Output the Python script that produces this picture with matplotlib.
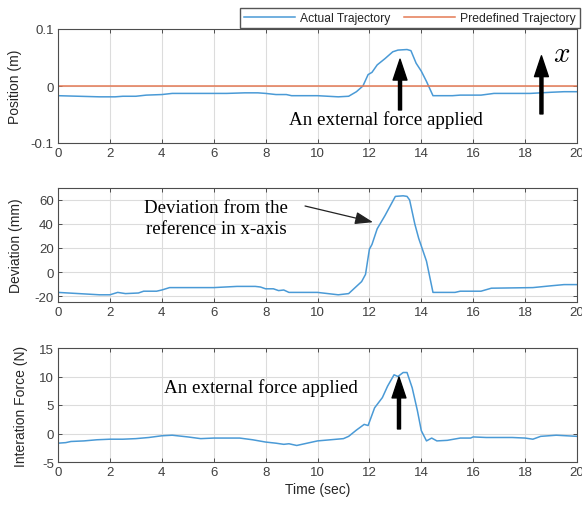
import numpy as np
import matplotlib
matplotlib.use("Agg")
import matplotlib.pyplot as plt

# values (time in sec)
t_pos = [0, 0.8, 1.6, 2.2, 2.5, 3.0, 3.4, 4.0, 4.4, 5.5, 6.5, 7.2, 7.7, 8.0, 8.4, 8.8,
         9.0, 10.0, 10.8, 11.2, 11.5, 11.75, 11.95, 12.1, 12.3, 12.6, 12.9, 13.1, 13.45,
         13.6, 13.8, 14.0, 14.2, 14.45, 15.2, 15.5, 16.3, 16.8, 18.2, 19.0, 19.5, 20]
position_m = [-0.017, -0.018, -0.019, -0.019, -0.018, -0.018, -0.016, -0.015, -0.013, -0.013,
              -0.013, -0.012, -0.012, -0.013, -0.015, -0.015, -0.017, -0.017, -0.019, -0.018,
              -0.010, 0.000, 0.020, 0.024, 0.037, 0.048, 0.060, 0.063, 0.064, 0.062, 0.040,
              0.026, 0.008, -0.017, -0.017, -0.016, -0.016, -0.013, -0.013, -0.011, -0.010, -0.010]

t_dev = [0, 0.8, 1.6, 2.0, 2.3, 2.6, 3.1, 3.3, 3.8, 4.0, 4.3, 5.0, 6.0, 6.9, 7.6, 7.8,
         8.0, 8.3, 8.5, 8.7, 8.9, 10.0, 10.8, 11.2, 11.5, 11.7, 11.85, 12.0, 12.1, 12.3,
         12.6, 12.9, 13.0, 13.3, 13.45, 13.55, 13.75, 13.9, 14.2, 14.45, 15.3, 15.5,
         16.3, 16.7, 18.3, 19.0, 19.5, 20]
deviation_mm = [-17, -18, -19, -19, -17, -18, -17.5, -16, -16, -15, -13, -13, -13, -12, -12, -12.5,
                -14, -14, -15.5, -15, -17, -17, -19, -18, -12, -8, -2, 19, 23, 36,
                47, 59, 63, 63.5, 63, 60, 40, 28, 9, -17, -17, -16,
                -16, -13.5, -13, -11.5, -10.5, -10.5]

t_force = [0, 0.3, 0.5, 1.0, 1.5, 2.0, 2.5, 3.0, 3.5, 4.0, 4.4, 5.0, 5.5, 6.0, 6.5, 7.0, 7.5, 8.0,
           8.4, 8.7, 8.9, 9.2, 9.6, 10.0, 10.5, 11.0, 11.2, 11.5, 11.8, 11.95, 12.2, 12.5,
           12.7, 12.95, 13.1, 13.3, 13.45, 13.65, 13.85, 14.0, 14.2, 14.4, 14.6, 15.0, 15.5,
           15.9, 16.0, 16.5, 17.0, 17.5, 18.0, 18.3, 18.6, 19.2, 19.6, 20]
force_n = [-1.7, -1.6, -1.4, -1.3, -1.1, -1.0, -1.0, -0.9, -0.7, -0.4, -0.3, -0.6, -0.9, -0.8, -0.8,
           -0.8, -1.1, -1.5, -1.7, -1.9, -1.8, -2.1, -1.7, -1.3, -1.1, -0.9, -0.5, 0.6, 1.6,
           1.4, 4.5, 6.3, 8.3, 10.3, 10.0, 10.7, 10.7, 8.0, 4.0, 0.5, -1.3, -0.8, -1.3, -1.2,
           -0.8, -0.8, -0.6, -0.7, -0.7, -0.7, -0.8, -1.0, -0.5, -0.3, -0.4, -0.5]

x_ticks = np.arange(0, 21, 2)

blue = '#4a9ad6'
orange = '#e47a55'
axis_col = '#4d4d4d'
txt_col = '#404040'

plt.rcParams['font.family'] = ['Liberation Sans', 'DejaVu Sans']
plt.rcParams['font.size'] = 9.5
plt.rcParams['axes.unicode_minus'] = False

fig = plt.figure(figsize=(5.82, 5.06), dpi=100)
left, width, height = 58 / 582, 519 / 582, 114 / 506
ax1 = fig.add_axes([left, 1 - 144 / 506, width, height])
ax2 = fig.add_axes([left, 1 - 303 / 506, width, height])
ax3 = fig.add_axes([left, 1 - 463 / 506, width, height])

big_arrow = dict(facecolor='black', edgecolor='black', width=2.2,
                 headwidth=10, headlength=15, shrink=0)


def style(ax):
    ax.set_xlim(0, 20)
    ax.set_xticks(x_ticks)
    ax.grid(True, color='#dcdcdc', linewidth=0.8)
    ax.set_axisbelow(True)
    ax.tick_params(direction='in', top=True, right=True, length=3, width=0.7,
                   colors=axis_col, labelcolor=txt_col, labelsize=9.5, pad=3)
    for s in ax.spines.values():
        s.set_color(axis_col)
        s.set_linewidth(0.8)


# position
ax1.plot(t_pos, position_m, color=blue, lw=1.1, label='Actual Trajectory')
ax1.axhline(0, color=orange, lw=1.1, label='Predefined Trajectory')
style(ax1)
ax1.set_ylim(-0.1, 0.1)
ax1.set_yticks([-0.1, 0, 0.1])
ax1.set_yticklabels(['-0.1', '0', '0.1'])
ax1.set_ylabel('Position (m)', fontsize=10, color='#262626')
ax1.yaxis.set_label_coords(-0.069, 0.5)
ax1.annotate('', xy=(13.18, 0.047), xytext=(13.18, -0.042), arrowprops=big_arrow)
ax1.annotate('', xy=(18.63, 0.053), xytext=(18.63, -0.049), arrowprops=big_arrow)
ax1.text(12.62, -0.058, 'An external force applied', family='Liberation Serif',
         fontsize=13.7, ha='center', va='center', color='black')
ax1.text(19.4, 0.058, '$x$', math_fontfamily='cm', fontsize=21,
         ha='center', va='center', color='black')
fig.legend(loc='lower right', bbox_to_anchor=(580 / 582, 1 - 29 / 506), ncol=2,
           frameon=True, fancybox=False, edgecolor='#555555', framealpha=1,
           fontsize=8.7, handlelength=4.2, columnspacing=1.2, handletextpad=0.4,
           borderpad=0.35, borderaxespad=0, labelcolor='#262626')

# deviation
ax2.plot(t_dev, deviation_mm, color=blue, lw=1.1)
style(ax2)
ax2.set_ylim(-25, 70)
ax2.set_yticks([-20, 0, 20, 40, 60])
ax2.set_ylabel('Deviation (mm)', fontsize=10, color='#262626')
ax2.yaxis.set_label_coords(-0.067, 0.5)
ax2.text(6.1, 45.0, 'Deviation from the\nreference in x-axis', family='Liberation Serif',
         fontsize=13.6, ha='center', va='center', linespacing=1.3, color='black')
ax2.annotate('', xy=(12.14, 41.5), xytext=(9.52, 55),
             arrowprops=dict(arrowstyle='-|>,head_length=1.1,head_width=0.38',
                             color='#222222', lw=0.9, mutation_scale=10,
                             shrinkA=0, shrinkB=0))

# force
ax3.plot(t_force, force_n, color=blue, lw=1.1)
style(ax3)
ax3.set_ylim(-5, 15)
ax3.set_yticks([-5, 0, 5, 10, 15])
ax3.set_ylabel('Interation Force (N)', fontsize=10, color='#262626')
ax3.yaxis.set_label_coords(-0.058, 0.5)
ax3.set_xlabel('Time (sec)', fontsize=10, color='#262626', labelpad=3)
ax3.text(7.8, 8.2, 'An external force applied', family='Liberation Serif',
         fontsize=13.7, ha='center', va='center', color='black')
ax3.annotate('', xy=(13.14, 9.9), xytext=(13.14, 0.8), arrowprops=big_arrow)

fig.savefig('out.png', dpi=100)
